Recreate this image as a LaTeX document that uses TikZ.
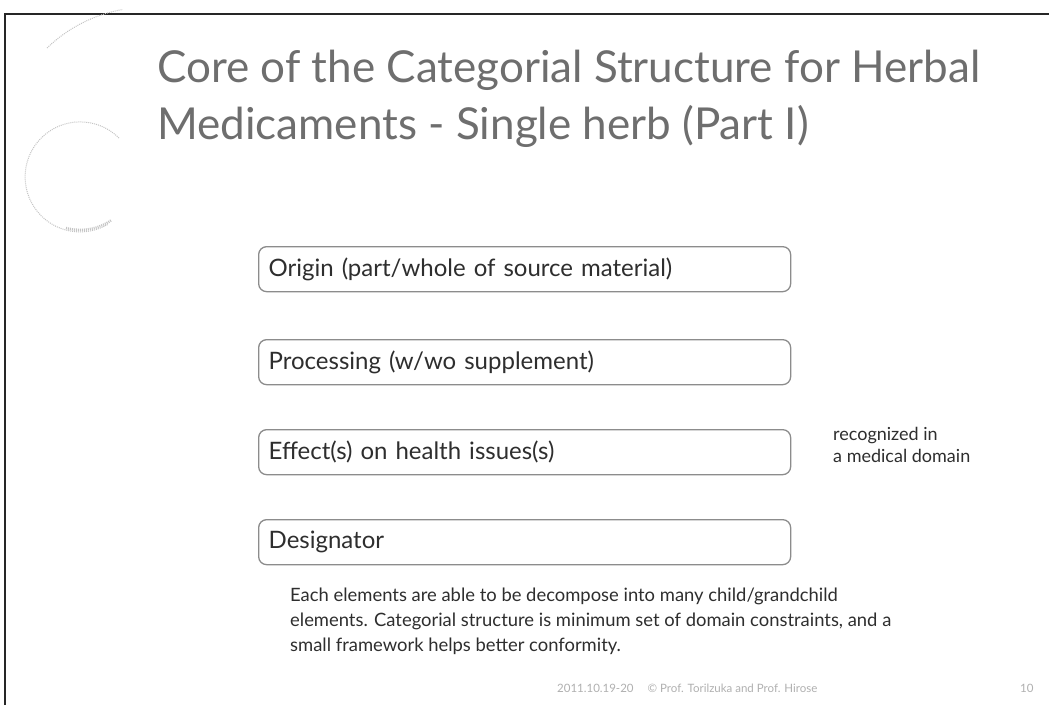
\documentclass[tikz,border=0pt]{standalone}
\usepackage{fontspec}
\setmainfont{Lato}
\definecolor{titlegray}{HTML}{6E6E6E}
\definecolor{textdark}{HTML}{2E2E2E}
\definecolor{boxgray}{HTML}{8C8C8C}
\definecolor{logogray}{HTML}{C4C4C4}
\definecolor{footgray}{HTML}{B0B0B0}
\tikzset{
  titletext/.style={anchor=base west, inner sep=0pt, text=titlegray, font=\fontsize{44}{52}\selectfont},
  itembox/.style={draw=boxgray, line width=1.3pt, rounded corners=8pt, minimum width=532pt,
    minimum height=45pt, text width=512pt, align=left, inner xsep=10pt, text=textdark,
    font=\fontsize{24}{28}\selectfont, anchor=north west},
  sidenote/.style={anchor=north west, inner sep=0pt, align=left, text=textdark,
    font=\fontsize{18}{22}\selectfont},
  bodytext/.style={anchor=north west, inner sep=0pt, align=left, text=textdark,
    font=\fontsize{18.4}{25}\selectfont},
  foottext/.style={anchor=base west, inner sep=0pt, text=footgray, font=\fontsize{11.5}{13}\selectfont},
  logoline/.style={draw=logogray, line width=1pt, densely dotted}
}
\begin{document}
\begin{tikzpicture}[x=1pt,y=-1pt]
\useasboundingbox (0,0) rectangle (1049,705);
\fill[white] (0,0) rectangle (1049,705);

% slide frame (top and left edges)
\draw[line width=2pt, black!85] (5,705) -- (5,14) -- (1049,14);

% faint logo in the upper left corner
\draw[logoline] (47,48) arc[start angle=-134, end angle=-100, radius=145];
\draw[logoline] (119,138) arc[start angle=-45, end angle=-300, radius=55];
\draw[logoline, line width=2.5pt] (66,228) arc[start angle=105, end angle=55, radius=55];

% title
\node[titletext] (t1) at (157,82) {Core of the Categorial Structure for Herbal};
\node[titletext] (t2) at (157,139) {Medicaments - Single herb (Part I)};

% the four core elements
\node[itembox] (origin) at (258,246) {Origin (part/whole of source material)};
\node[itembox] (proc) at (258,339) {Processing (w/wo supplement)};
\node[itembox] (effect) at (258,429) {Effect(s) on health issues(s)};
\node[itembox] (desig) at (258,519) {Designator};

\node[sidenote] (note) at (833,427) {recognized in\\a medical domain};

\node[bodytext] (body) at (290,588) {Each elements are able to be decompose into many child/grandchild\\elements. Categorial structure is minimum set of domain constraints, and a\\small framework helps better conformity.};

% footer
\node[foottext] (date) at (557,692) {2011.10.19-20\hspace{14pt}© Prof. Torilzuka and Prof. Hirose};
\node[foottext] (page) at (1020,692) {10};
\end{tikzpicture}
\end{document}
